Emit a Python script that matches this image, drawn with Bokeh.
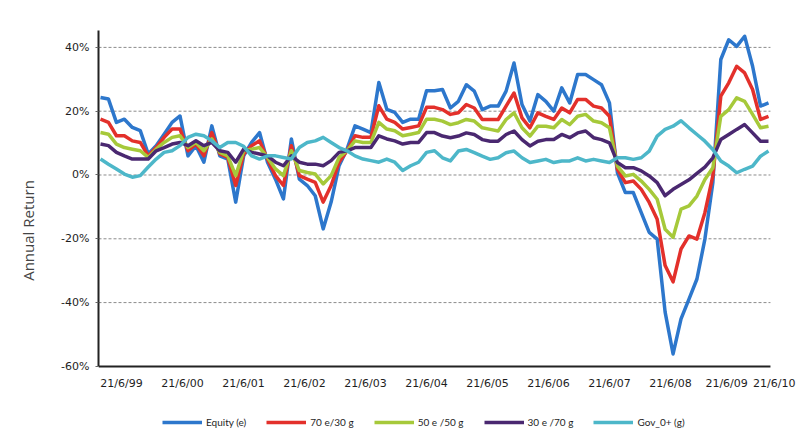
from bokeh.plotting import figure
from bokeh.models import (Range1d, FixedTicker, Legend, LegendItem,
                          PrintfTickFormatter)
from bokeh.core.properties import value
from bokeh.embed import file_html
from bokeh.resources import INLINE

# ---------------- data (annual rolling return, %) ----------------
# samples are regularly spaced; x is measured in years from 21/6/99
first_sample = -0.344
sample_step = 0.13037

equity = [24.3, 23.8, 16.5, 17.5, 14.9, 13.9, 6.6, 9.2, 12.8, 16.5, 18.5, 6.0, 9.2, 4.0, 15.4, 6.0, 5.0, -8.5, 6.0, 10.2, 13.3, 4.0,
          -1.3, -7.5, 11.3, -1.3, -3.3, -6.5, -16.9, -8.5, 2.9, 8.1, 15.4, 14.4, 13.3, 29.0, 20.6, 19.6, 16.5, 17.5, 17.5, 26.4, 26.4,
          26.8, 21.0, 23.1, 28.3, 26.3, 20.5, 21.6, 21.6, 26.3, 35.1, 22.1, 16.9, 25.2, 23.1, 20.0, 27.3, 22.6, 31.5, 31.5,
          29.9, 28.3, 22.6, 0.7, -5.5, -5.5, -11.8, -18.0, -20.1, -43.0, -56.1, -45.1, -38.9, -32.6, -20.1, -2.4, 36.2, 42.4, 40.3, 43.5, 34.1, 21.6, 22.6]

mix_70_30 = [17.5, 16.5, 12.3, 12.3, 10.7, 10.2, 6.0, 8.6, 11.8, 14.4, 14.4, 7.6, 9.7, 6.0, 13.3, 6.6, 5.5, -3.3, 6.6, 9.2, 10.7, 5.0,
             -0.2, -3.3, 9.2, -0.2, -1.3, -2.3, -8.5, -3.3, 4.0, 7.6, 12.3, 11.8, 11.8, 21.7, 17.5, 16.5, 14.4, 14.9, 15.4, 21.2, 21.2,
             20.5, 19.0, 19.5, 22.1, 21.0, 17.4, 17.4, 17.4, 21.6, 25.7, 17.9, 14.8, 19.5, 18.4, 17.4, 21.0, 19.5, 23.7, 23.7,
             21.6, 21.0, 18.4, 1.8, -2.4, -1.9, -4.5, -8.6, -13.9, -28.4, -33.5, -23.2, -19.1, -20.1, -11.8, -0.3, 24.7, 28.9, 34.1, 32.0, 26.8, 17.4, 18.4]

mix_50_50 = [13.3, 12.8, 9.7, 8.6, 8.1, 7.6, 5.5, 8.1, 10.2, 11.8, 12.3, 8.6, 10.2, 7.6, 11.3, 7.1, 6.0, -0.2, 7.6, 8.1, 8.6, 5.5,
             1.9, -0.2, 7.6, 1.4, 0.8, 0.3, -2.8, -0.2, 5.5, 7.6, 10.7, 10.2, 10.2, 16.5, 14.4, 13.9, 12.3, 12.8, 13.3, 17.5, 17.5,
             16.9, 15.8, 16.4, 17.4, 16.9, 14.8, 14.3, 13.8, 17.4, 19.5, 14.8, 12.2, 15.3, 15.3, 14.8, 17.4, 15.8, 18.4, 19.0,
             16.9, 16.4, 14.8, 2.8, -0.3, 0.2, -1.9, -4.5, -7.6, -17.0, -19.5, -10.7, -9.7, -6.6, -1.4, 2.3, 18.4, 20.5, 24.2, 23.1, 19.0, 14.8, 15.3]

mix_30_70 = [9.7, 9.2, 7.1, 6.0, 5.0, 5.0, 5.0, 7.6, 8.6, 9.7, 10.2, 9.2, 10.7, 9.2, 10.2, 7.6, 7.1, 4.0, 8.1, 7.1, 6.6, 6.0,
             4.0, 2.9, 6.0, 4.0, 3.4, 3.4, 2.9, 4.5, 7.1, 7.6, 8.6, 8.6, 8.6, 12.3, 11.3, 10.7, 9.7, 10.2, 10.2, 13.3, 13.3,
             12.2, 11.7, 12.2, 13.2, 12.7, 11.1, 10.6, 10.6, 12.7, 13.8, 11.1, 9.1, 10.6, 11.1, 11.1, 12.7, 11.7, 13.2, 13.8,
             11.7, 11.1, 10.1, 3.9, 2.3, 2.3, 1.3, -0.3, -2.4, -6.5, -4.5, -3.0, -1.5, 0.5, 2.5, 5.4, 11.1, 12.7, 14.3, 15.8, 13.2, 10.6, 10.6]

gov = [5.0, 3.4, 1.9, 0.3, -0.7, -0.2, 2.5, 5.0, 7.1, 7.6, 9.2, 11.8, 12.8, 12.3, 10.7, 8.6, 10.2, 10.2, 9.0, 6.0, 5.0, 6.0,
       6.0, 5.5, 5.0, 8.6, 10.2, 10.7, 11.8, 10.2, 8.6, 7.6, 6.0, 5.0, 4.5, 4.0, 5.0, 4.0, 1.4, 2.9, 4.0, 7.1, 7.6,
       5.4, 4.4, 7.5, 8.0, 7.0, 5.9, 4.9, 5.4, 7.0, 7.5, 5.4, 3.9, 4.4, 4.9, 3.9, 4.4, 4.4, 5.4, 4.4,
       4.9, 4.4, 3.9, 5.4, 5.4, 4.9, 5.4, 7.5, 12.2, 14.3, 15.3, 17.0, 14.8, 12.7, 10.6, 8.0, 4.4, 2.8, 0.7, 1.8, 2.8, 5.9, 7.5]

series_names = ["Equity (e)", "70 e/30 g", "50 e /50 g", "30 e /70 g", "Gov_0+ (g)"]
series_values = [equity, mix_70_30, mix_50_50, mix_30_70, gov]
series_colors = ["#2d77cc", "#e3302b", "#a6c93a", "#4a2870", "#4db7c9"]

tick_labels = ["21/6/99", "21/6/00", "21/6/01", "21/6/02", "21/6/03", "21/6/04",
               "21/6/05", "21/6/06", "21/6/07", "21/6/08", "21/6/09", "21/6/10"]
tick_years = [0, 1, 2, 3, 4, 5, 6, 7, 8, 9, 9.92, 10.7]
y_ticks = [-60, -40, -20, 0, 20, 40]
y_min, y_max = -60, 45.3
axis_x_start, axis_x_end = -0.377, 10.639   # extent of the category axis

n = len(equity)
x = [first_sample + i * sample_step for i in range(n)]

# ---------------- figure ----------------
# the frame reaches the bottom/right of the figure so that the category labels
# and the legend (which sit under the -60% baseline) are not clipped
p = figure(width=796, height=430, output_backend="svg", toolbar_location=None,
           x_range=Range1d(axis_x_start, 11.066), y_range=Range1d(-80.1, y_max),
           min_border_left=98, min_border_top=30, min_border_right=0, min_border_bottom=0)
p.background_fill_color = "white"
p.border_fill_color = "white"
p.outline_line_color = None
p.xgrid.grid_line_color = None
p.ygrid.grid_line_color = None

# dashed horizontal gridlines limited to the category axis extent
grid_levels = [t for t in y_ticks if t != y_min]
p.segment(x0=[axis_x_start] * len(grid_levels), x1=[axis_x_end] * len(grid_levels),
          y0=grid_levels, y1=grid_levels,
          line_color="#8c8c8c", line_dash="3 2", line_width=1)

renderers = []
for vals, col in zip(series_values, series_colors):
    r = p.line(x, vals, line_color=col, line_width=3.5, line_join="round")
    renderers.append(r)

# x axis: baseline at -60% with the date labels underneath
p.xaxis.visible = False
p.segment(x0=[axis_x_start], x1=[axis_x_end], y0=[y_min], y1=[y_min],
          line_color="#222222", line_width=2)
p.text(x=tick_years, y=[y_min] * len(tick_years), text=tick_labels,
       text_align="center", text_baseline="top", y_offset=11,
       text_font=value("DejaVu Sans"), text_font_size=value("11px"),
       text_color="#1e1e1e")

# y axis
p.yaxis.bounds = (y_min, y_max)
p.yaxis.ticker = FixedTicker(ticks=y_ticks)
p.yaxis.formatter = PrintfTickFormatter(format="%d%%")
p.yaxis.major_tick_out = 3
p.yaxis.major_tick_in = 0
p.yaxis.major_tick_line_color = "#666666"
p.yaxis.minor_tick_line_color = None
p.yaxis.major_label_standoff = 6
p.yaxis.major_label_text_font = "DejaVu Sans"
p.yaxis.major_label_text_font_size = "11px"
p.yaxis.major_label_text_color = "#1e1e1e"
p.yaxis.axis_line_color = "#222222"
p.yaxis.axis_line_width = 2
p.yaxis.axis_label = "Annual Return"
p.yaxis.axis_label_standoff = 20
p.yaxis.axis_label_text_font = "Open Sans"
p.yaxis.axis_label_text_font_size = "15px"
p.yaxis.axis_label_text_font_style = "normal"
p.yaxis.axis_label_text_color = "#444444"

legend = Legend(items=[LegendItem(label=nm, renderers=[r]) for nm, r in zip(series_names, renderers)],
                location=(64, 2), orientation="horizontal",
                glyph_width=40, glyph_height=10, label_standoff=4, spacing=20,
                padding=0, margin=0, border_line_color=None, background_fill_alpha=0,
                label_text_font="Lato", label_text_font_size="10px",
                label_text_color="#1e1e1e", label_height=12)
p.add_layout(legend)

open("out.html", "w").write(file_html(p, INLINE))
